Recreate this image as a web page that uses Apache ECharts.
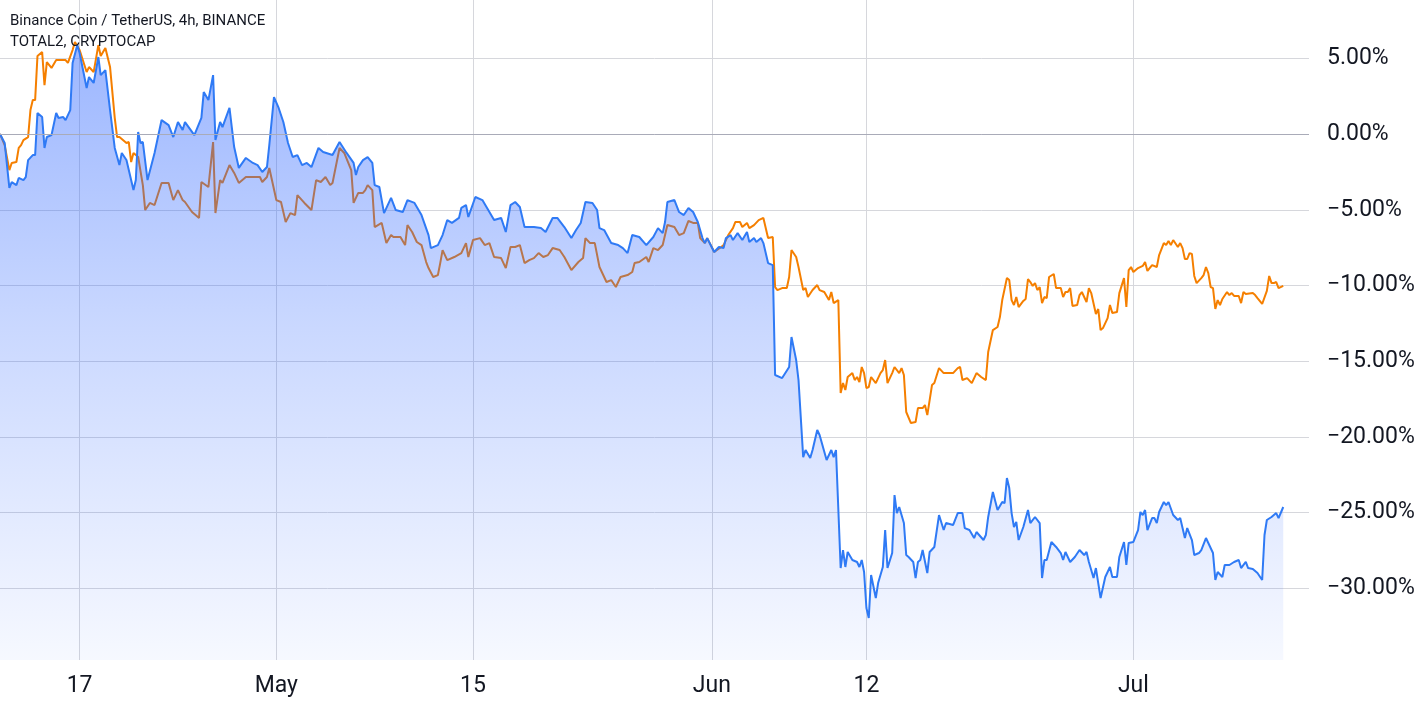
<!DOCTYPE html>
<html>
<head>
<meta charset="utf-8">
<script src="https://cdn.jsdelivr.net/npm/echarts@6/dist/echarts.min.js"></script>
<style>
html,body{margin:0;padding:0;background:#ffffff;}
#chart{width:1427px;height:710px;}
</style>
</head>
<body>
<div id="chart"></div>
<script>
// ---- data ----
const START = '2023-04-11 08:00';      // first 4h candle shown
const BAR_HOURS = 4;                    // candle length
const X_END = '2023-07-13 12:00';       // right end of the time scale
const titleLines = ['Binance Coin / TetherUS, 4h, BINANCE', 'TOTAL2, CRYPTOCAP'];
const dateTicks = ['2023-04-17', '2023-05-01', '2023-05-15', '2023-06-01', '2023-06-12', '2023-07-01'];
const dateTickLabels = ['17', 'May', '15', 'Jun', '12', 'Jul'];
const percentTicks = [-30, -25, -20, -15, -10, -5, 0, 5];
const percentRange = [-34.72, 8.846];

// [candle number since START, % change] — Binance Coin / TetherUS
const bnbPoints = [[0,0],[2,-0.59],[4,-3.56],[5,-3.17],[7,-3.37],[8,-2.90],[10,-3.04],[11,-2.84],[12,-1.72],[14,-1.39],[15,-1.39],[16,1.39],[18,1.12],[19,-0.92],[20,-0.20],[22,-0.07],[24,1.39],[25,1.06],[27,1.12],[28,0.92],[30,1.58],[31,4.69],[33,5.87],[34,5.35],[37,3.04],[38,3.76],[40,3.37],[42,5.08],[43,3.89],[45,4.22],[47,1.58],[49,-0.92],[51,-2.05],[52,-1.25],[54,-1.72],[57,-3.70],[58,-3.04],[59,0.13],[60,-0.59],[61,-0.53],[63,-3.04],[66,-1.25],[69,0.92],[72,0.59],[74,-0.20],[76,0.79],[78,0.26],[79,0.79],[83,-0.07],[86,1.06],[87,2.77],[89,2.24],[91,3.89],[92,-0.40],[94,0.79],[95,0.46],[98,1.72],[100,-0.86],[102,-2.24],[105,-1.58],[108,-1.91],[110,-2.05],[112,-2.51],[114,-2.18],[115,-0.73],[117,2.44],[119,1.72],[121,0.79],[123,-0.59],[125,-1.52],[127,-1.39],[129,-2.05],[131,-1.91],[133,-2.18],[136,-0.92],[138,-1.19],[142,-1.39],[145,-0.53],[148,-1.25],[151,-1.91],[152,-2.71],[153,-2.18],[155,-1.72],[157,-1.52],[159,-1.91],[160,-3.37],[162,-3.50],[164,-5.22],[167,-4.22],[169,-5.02],[172,-5.15],[174,-4.36],[177,-4.55],[180,-5.35],[183,-6.67],[184,-7.53],[187,-7.33],[189,-6.67],[191,-5.68],[193,-5.87],[196,-5.54],[197,-4.88],[199,-4.69],[200,-5.48],[203,-4.16],[206,-4.36],[208,-4.88],[211,-5.68],[214,-5.54],[216,-6.47],[218,-4.69],[220,-4.49],[222,-4.82],[224,-6.14],[228,-6.14],[231,-6.21],[233,-6.47],[236,-5.54],[238,-5.54],[241,-6.14],[244,-6.87],[246,-6.34],[248,-5.87],[250,-4.49],[253,-4.55],[255,-5.02],[256,-6.21],[258,-6.34],[261,-7.20],[264,-7.33],[266,-7.53],[268,-7.86],[270,-6.67],[273,-6.80],[276,-7.33],[279,-6.80],[281,-6.21],[283,-6.54],[284,-5.81],[285,-4.49],[288,-4.36],[290,-5.15],[292,-5.35],[294,-4.88],[296,-5.15],[298,-5.81],[300,-6.87],[301,-7.20],[302,-6.87],[305,-7.79],[307,-7.46],[309,-7.53],[310,-6.87],[312,-6.67],[313,-7.00],[315,-6.54],[317,-7.00],[319,-6.47],[320,-7.13],[322,-6.87],[323,-7.13],[325,-6.87],[326,-7.20],[328,-8.52],[330,-8.65],[331,-15.91],[334,-16.11],[337,-15.38],[338,-13.40],[340,-14.92],[341,-16.24],[343,-21.33],[344,-20.86],[346,-21.39],[347,-20.86],[349,-19.54],[350,-19.87],[353,-21.52],[355,-20.86],[356,-21.33],[357,-20.86],[359,-28.65],[360,-27.46],[361,-28.58],[362,-27.59],[364,-28.12],[366,-28.25],[367,-28.58],[368,-28.12],[369,-28.91],[370,-31.29],[371,-31.95],[372,-29.11],[374,-30.63],[375,-29.64],[377,-28.58],[378,-26.14],[379,-28.65],[381,-27.66],[382,-23.83],[383,-25.02],[384,-24.62],[386,-25.68],[387,-27.79],[388,-27.92],[390,-28.25],[391,-29.31],[392,-28.25],[393,-28.12],[394,-27.46],[396,-28.98],[397,-27.59],[399,-27.26],[401,-25.15],[403,-26.14],[404,-25.68],[407,-25.81],[409,-25.02],[411,-25.02],[412,-26.01],[414,-26.14],[416,-26.67],[417,-26.27],[420,-26.80],[421,-26.47],[422,-25.28],[424,-23.63],[426,-24.82],[428,-24.29],[429,-24.36],[430,-22.71],[431,-23.37],[432,-25.02],[433,-25.94],[434,-25.61],[435,-26.80],[437,-25.94],[439,-24.82],[440,-25.68],[442,-25.28],[444,-25.68],[445,-29.31],[446,-28.12],[447,-28.12],[449,-26.93],[451,-27.26],[453,-27.66],[454,-28.12],[455,-27.59],[457,-28.25],[459,-27.92],[461,-27.46],[463,-27.79],[464,-27.59],[465,-28.25],[467,-29.31],[468,-28.65],[470,-30.63],[472,-29.24],[474,-28.58],[475,-29.24],[477,-29.24],[478,-27.92],[480,-26.93],[481,-28.45],[482,-26.99],[484,-26.93],[486,-26.14],[487,-24.95],[488,-25.15],[489,-24.82],[490,-26.14],[492,-25.35],[493,-25.35],[494,-25.68],[495,-24.95],[497,-24.29],[498,-24.49],[499,-24.29],[501,-25.15],[503,-25.48],[504,-25.35],[506,-26.67],[507,-26.01],[509,-26.80],[510,-27.79],[512,-27.66],[513,-27.46],[515,-26.67],[518,-27.66],[519,-29.44],[520,-28.91],[522,-29.24],[523,-28.45],[525,-28.45],[527,-28.25],[529,-28.12],[530,-28.65],[532,-28.25],[533,-28.65],[535,-28.71],[537,-28.98],[539,-29.44],[540,-26.47],[541,-25.48],[543,-25.28],[545,-25.02],[546,-25.35],[548,-24.62]];

// [candle number since START, % change] — TOTAL2, CRYPTOCAP
const total2Points = [[0,0],[2,-0.73],[4,-2.38],[5,-1.91],[7,-1.85],[8,-0.92],[9,-0.73],[10,-0.40],[12,-0.20],[13,1.58],[14,2.24],[15,2.24],[16,5.15],[18,5.41],[19,3.23],[20,4.75],[22,4.36],[24,4.88],[26,4.88],[28,4.88],[29,4.69],[31,5.54],[32,6.07],[34,5.54],[37,4.09],[38,4.42],[40,4.09],[42,5.87],[43,5.15],[45,5.68],[47,4.42],[49,1.06],[50,-0.20],[51,-0.20],[54,-0.59],[55,-0.53],[56,-1.85],[57,-1.25],[59,-1.52],[61,-3.37],[62,-5.02],[64,-4.55],[66,-4.69],[69,-3.23],[72,-3.23],[74,-4.36],[76,-3.70],[78,-4.36],[79,-4.49],[82,-5.15],[85,-5.54],[86,-3.17],[89,-3.50],[91,-0.53],[92,-5.22],[94,-3.04],[95,-3.23],[98,-2.05],[100,-2.57],[102,-3.23],[105,-2.84],[108,-2.84],[111,-2.84],[112,-3.17],[114,-2.84],[115,-2.24],[118,-4.36],[120,-4.49],[122,-5.81],[124,-5.22],[126,-5.35],[127,-4.03],[130,-4.55],[133,-5.02],[135,-3.04],[137,-3.17],[139,-2.84],[141,-3.37],[142,-3.23],[145,-0.92],[147,-1.25],[150,-2.38],[151,-4.55],[153,-3.89],[155,-3.89],[156,-3.70],[157,-3.37],[159,-3.70],[160,-6.14],[163,-5.87],[165,-7.20],[167,-6.67],[168,-6.80],[171,-6.80],[173,-7.33],[174,-6.01],[176,-6.47],[178,-7.13],[180,-7.33],[182,-8.45],[183,-8.85],[185,-9.44],[187,-9.31],[188,-8.52],[189,-7.66],[191,-8.32],[194,-8.12],[197,-7.86],[199,-7.20],[200,-8.12],[202,-7.00],[205,-6.87],[207,-7.33],[209,-7.20],[211,-8.12],[214,-8.19],[216,-8.85],[218,-7.46],[220,-7.46],[222,-7.33],[224,-8.52],[226,-8.32],[228,-8.19],[230,-7.86],[232,-8.12],[234,-7.99],[236,-7.53],[239,-7.66],[241,-8.12],[244,-8.98],[247,-8.45],[249,-8.19],[250,-6.87],[252,-7.20],[254,-7.20],[256,-8.78],[259,-9.77],[261,-9.64],[263,-10.10],[265,-9.44],[268,-9.31],[270,-9.11],[271,-8.52],[273,-8.45],[276,-8.12],[277,-8.45],[279,-7.53],[281,-7.66],[283,-7.33],[285,-6.01],[288,-6.14],[290,-6.67],[292,-6.54],[294,-5.74],[296,-5.87],[298,-5.87],[299,-6.87],[301,-7.20],[302,-6.87],[305,-7.79],[308,-7.46],[309,-7.33],[311,-6.67],[313,-6.21],[314,-5.81],[316,-5.81],[317,-6.14],[319,-5.87],[320,-6.21],[322,-6.01],[324,-5.68],[326,-5.54],[328,-6.87],[330,-6.80],[331,-10.10],[332,-10.30],[334,-10.17],[336,-10.17],[337,-9.44],[338,-7.66],[340,-8.12],[341,-8.78],[343,-10.30],[344,-10.17],[345,-10.76],[347,-10.30],[349,-9.97],[350,-10.30],[352,-10.43],[354,-10.96],[355,-10.43],[356,-11.16],[358,-10.96],[359,-17.10],[360,-16.44],[361,-16.90],[362,-16.04],[364,-15.78],[365,-16.24],[366,-16.04],[367,-16.37],[368,-15.38],[369,-15.78],[370,-16.77],[371,-16.70],[372,-16.04],[374,-16.44],[376,-15.78],[377,-15.58],[378,-14.92],[379,-16.44],[381,-15.78],[382,-15.38],[384,-15.78],[385,-15.45],[386,-15.91],[387,-18.35],[389,-19.08],[391,-19.01],[392,-18.09],[394,-18.09],[395,-17.89],[396,-18.55],[398,-16.57],[399,-16.44],[401,-15.45],[403,-15.78],[405,-15.78],[407,-15.78],[409,-15.45],[410,-15.38],[411,-16.24],[413,-16.11],[415,-16.44],[417,-15.78],[419,-16.04],[421,-16.24],[422,-14.39],[424,-12.94],[426,-12.74],[427,-12.08],[428,-10.96],[430,-9.51],[431,-9.64],[432,-10.96],[433,-11.29],[434,-10.76],[435,-11.42],[437,-11.02],[438,-10.89],[439,-9.57],[440,-9.77],[441,-10.03],[442,-9.84],[443,-10.30],[444,-10.10],[445,-11.16],[446,-10.76],[447,-10.83],[448,-9.44],[450,-9.24],[451,-10.17],[453,-10.17],[454,-10.76],[455,-10.43],[456,-10.43],[457,-10.17],[458,-11.35],[460,-11.29],[461,-10.63],[462,-10.43],[464,-11.09],[465,-10.17],[466,-10.50],[468,-11.88],[469,-11.55],[470,-12.94],[471,-12.81],[473,-12.15],[474,-11.29],[475,-11.82],[477,-11.75],[478,-10.50],[480,-9.51],[481,-11.42],[482,-8.98],[483,-8.78],[484,-9.11],[486,-8.85],[488,-8.71],[489,-8.45],[490,-9.04],[492,-8.65],[494,-8.78],[495,-7.99],[497,-7.20],[498,-7.33],[499,-7.06],[500,-7.33],[501,-7.00],[503,-7.46],[504,-7.20],[505,-7.53],[506,-8.25],[507,-8.25],[508,-7.86],[509,-7.92],[510,-9.37],[511,-9.84],[513,-9.51],[514,-9.31],[515,-8.78],[516,-9.18],[517,-10.10],[518,-10.17],[519,-11.55],[520,-10.96],[521,-11.29],[522,-10.89],[524,-10.43],[525,-10.63],[526,-10.50],[527,-10.69],[529,-10.69],[530,-11.16],[531,-10.43],[532,-10.56],[535,-10.50],[536,-10.63],[537,-10.83],[539,-11.22],[541,-10.36],[542,-9.37],[543,-9.84],[544,-9.84],[545,-9.77],[546,-10.17],[548,-10.03]];

// ---- helpers ----
const HOUR = 3600000;
function parseLocal(s) {
  const parts = s.split(' ');
  const d = parts[0].split('-').map(Number);
  const t = (parts[1] || '00:00').split(':').map(Number);
  return new Date(d[0], d[1] - 1, d[2], t[0], t[1]).getTime();
}
const t0 = parseLocal(START);
const toSeries = pts => pts.map(p => [t0 + p[0] * BAR_HOURS * HOUR, p[1]]);
const tickTimes = dateTicks.map(parseLocal);
const tickLabelOf = {};
tickTimes.forEach((t, i) => { tickLabelOf[t] = dateTickLabels[i]; });
const pctText = v => (v < 0 ? '\u2212' : '') + Math.abs(v).toFixed(2) + '%';

const FONT = 'Roboto, "Noto Sans", sans-serif';
const TEXT = '#131722';
const GRID = '#d6d7dc';

const chart = echarts.init(document.getElementById('chart'), null, { renderer: 'canvas' });
chart.setOption({
  animation: false,
  backgroundColor: '#ffffff',
  textStyle: { fontFamily: FONT },
  grid: { left: 0, right: 118, top: 0, bottom: 50, containLabel: false },
  graphic: titleLines.map((txt, i) => ({
    type: 'text', left: 10, top: 14 + i * 21, z: 100,
    style: { text: txt, fill: TEXT, font: '15px ' + FONT }
  })),
  xAxis: {
    type: 'value',
    min: t0,
    max: parseLocal(X_END),
    axisLine: { show: false },
    axisTick: { show: false, customValues: tickTimes },
    axisLabel: {
      customValues: tickTimes,
      formatter: v => tickLabelOf[v] || '',
      color: TEXT, fontSize: 23, fontFamily: FONT, margin: 15
    },
    splitLine: { show: true, lineStyle: { color: GRID, width: 1 } }
  },
  yAxis: {
    type: 'value',
    position: 'right',
    min: percentRange[0],
    max: percentRange[1],
    axisLine: { show: false },
    axisTick: { show: false, customValues: percentTicks },
    axisLabel: {
      customValues: percentTicks,
      formatter: pctText,
      color: TEXT, fontSize: 23, fontFamily: FONT, margin: 18, align: 'left'
    },
    splitLine: { show: true, lineStyle: { color: GRID, width: 1 } }
  },
  series: [
    {
      name: 'TOTAL2, CRYPTOCAP',
      type: 'line',
      z: 2,
      data: toSeries(total2Points),
      showSymbol: false,
      symbol: 'none',
      lineStyle: { color: '#f57f00', width: 2 },
      itemStyle: { color: '#f57f00' },
      silent: true,
      markLine: {
        silent: true, symbol: 'none', label: { show: false },
        lineStyle: { color: '#a9abb8', width: 1, type: 'solid' },
        data: [{ yAxis: 0 }]
      }
    },
    {
      name: 'Binance Coin / TetherUS',
      type: 'line',
      z: 3,
      data: toSeries(bnbPoints),
      showSymbol: false,
      symbol: 'none',
      lineStyle: { color: '#2f7af5', width: 2 },
      itemStyle: { color: '#2f7af5' },
      silent: true,
      areaStyle: {
        origin: 'start',
        color: new echarts.graphic.LinearGradient(0, 0, 0, 1, [
          { offset: 0, color: 'rgba(41,98,255,0.66)' },
          { offset: 0.45, color: 'rgba(41,98,255,0.36)' },
          { offset: 1, color: 'rgba(41,98,255,0.06)' }
        ])
      }
    }
  ]
});
</script>
</body>
</html>
